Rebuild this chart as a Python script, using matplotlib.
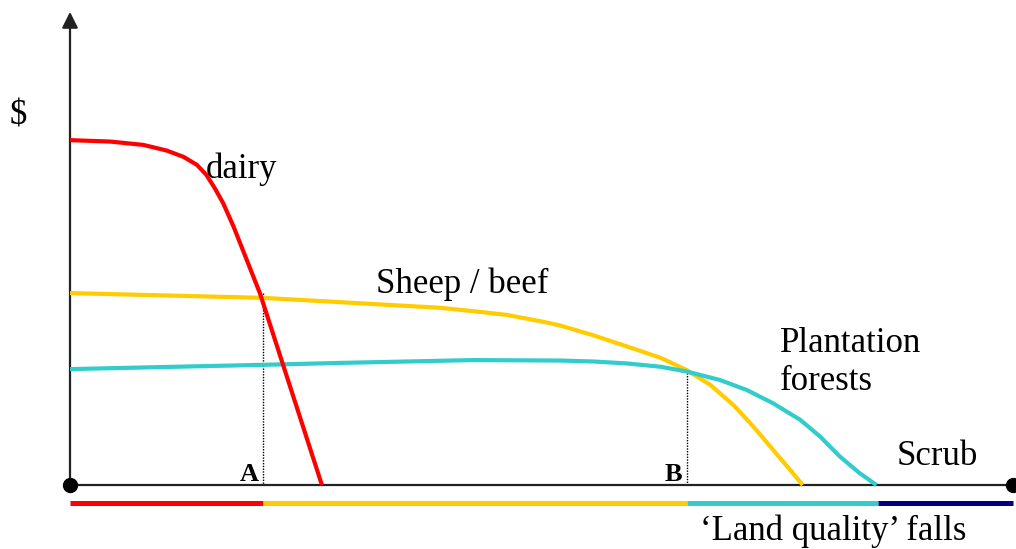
import matplotlib

matplotlib.use("Agg")
import matplotlib.pyplot as plt

# return ($) against falling land quality
dairy_x = [0, 4.3, 7.8, 10.3, 12.05, 13.5, 14.5, 15.4, 16.3, 17.4, 18.8, 20.2, 26.8]
dairy_y = [72.6, 72.3, 71.6, 70.4, 69.1, 67.4, 65.3, 62.5, 59.3, 54.4, 47.4, 40.4, 0]

sheep_x = [0, 20.5, 28.7, 39.4, 42.9, 46.5, 50.0, 52.1, 55.7, 59.2, 62.8, 65.6, 68.1,
           70.6, 72.7, 74.8, 76.6, 77.95]
sheep_y = [40.4, 39.4, 38.5, 37.3, 36.6, 35.8, 34.5, 33.6, 31.5, 29.2, 26.8, 24.2, 21.1,
           16.8, 12.3, 7.4, 3.2, 0]

forest_x = [0, 20.5, 28.7, 42.9, 52.1, 55.7, 59.2, 62.8, 65.6, 69.15, 72.0, 74.8,
            77.7, 79.8, 81.9, 84.0, 85.8]
forest_y = [24.4, 25.3, 25.7, 26.3, 26.2, 26.0, 25.6, 24.9, 23.9, 22.1, 20.0, 17.2,
            13.7, 10.2, 6.0, 2.5, 0]

# switch points A and B and the land-use bands below the axis
cross_x = [20.5, 65.6]
cross_y = [40.4, 24.2]
cross_labels = ["A", "B"]
band_edges = [0, 20.5, 65.6, 86.0, 100.3]
band_colors = ["#ff0000", "#ffcc00", "#33cccc", "#000080"]

RED, YELLOW, CYAN = "#ff0000", "#ffcc00", "#33cccc"
X_END, Y_TOP = 100.3, 99.6

plt.rcParams["font.family"] = ["Liberation Serif", "DejaVu Serif"]

fig = plt.figure(figsize=(10.16, 5.49), dpi=100)
ax = fig.add_axes([0, 0, 1, 1])
ax.set_xlim(-7.447, 100.64)
ax.set_ylim(-13.47, 102.1)
ax.axis("off")

# axes
ax.plot([0, X_END], [0, 0], color="#222222", lw=1.6, zorder=2)
ax.annotate("", xy=(0, Y_TOP), xytext=(0, 0),
            arrowprops=dict(arrowstyle="-|>", mutation_scale=24, lw=1.6,
                            color="#222222", shrinkA=0, shrinkB=0))
ax.plot([0, X_END], [0, 0], "o", color="black", ms=10, zorder=5)

# dotted drop lines
for xv, yv in zip(cross_x, cross_y):
    ax.plot([xv, xv], [yv, 0], color="black", lw=1, ls=(0, (1, 1)), zorder=1)

line_kw = dict(lw=3, solid_capstyle="butt", solid_joinstyle="round")
ax.plot(sheep_x, sheep_y, color=YELLOW, zorder=3, **line_kw)
ax.plot(forest_x, forest_y, color=CYAN, zorder=3, **line_kw)
ax.plot(dairy_x, dairy_y, color=RED, zorder=4, **line_kw)

for i, c in enumerate(band_colors):
    ax.plot([band_edges[i], band_edges[i + 1]], [-3.8, -3.8], color=c, lw=3.6,
            solid_capstyle="butt")

fs = 25
ax.text(-5.5, 77.6, "$", fontsize=fs, ha="center", va="center")
ax.text(14.4, 64.6, "dairy", fontsize=fs, va="baseline")
ax.text(32.6, 40.4, "Sheep / beef", fontsize=fs, va="baseline")
ax.text(75.5, 28.0, "Plantation", fontsize=fs, va="baseline")
ax.text(75.5, 20.0, "forests", fontsize=fs, va="baseline")
ax.text(87.9, 4.2, "Scrub", fontsize=fs, va="baseline")
ax.text(67.0, -11.6, "\u2018Land quality\u2019 falls", fontsize=fs, va="baseline")
for xv, lab in zip(cross_x, cross_labels):
    ax.text(xv - 1.4, 0.8, lab, fontsize=19, fontweight="bold", ha="center",
            va="baseline")

fig.savefig("out.png", dpi=100)
plt.close(fig)
